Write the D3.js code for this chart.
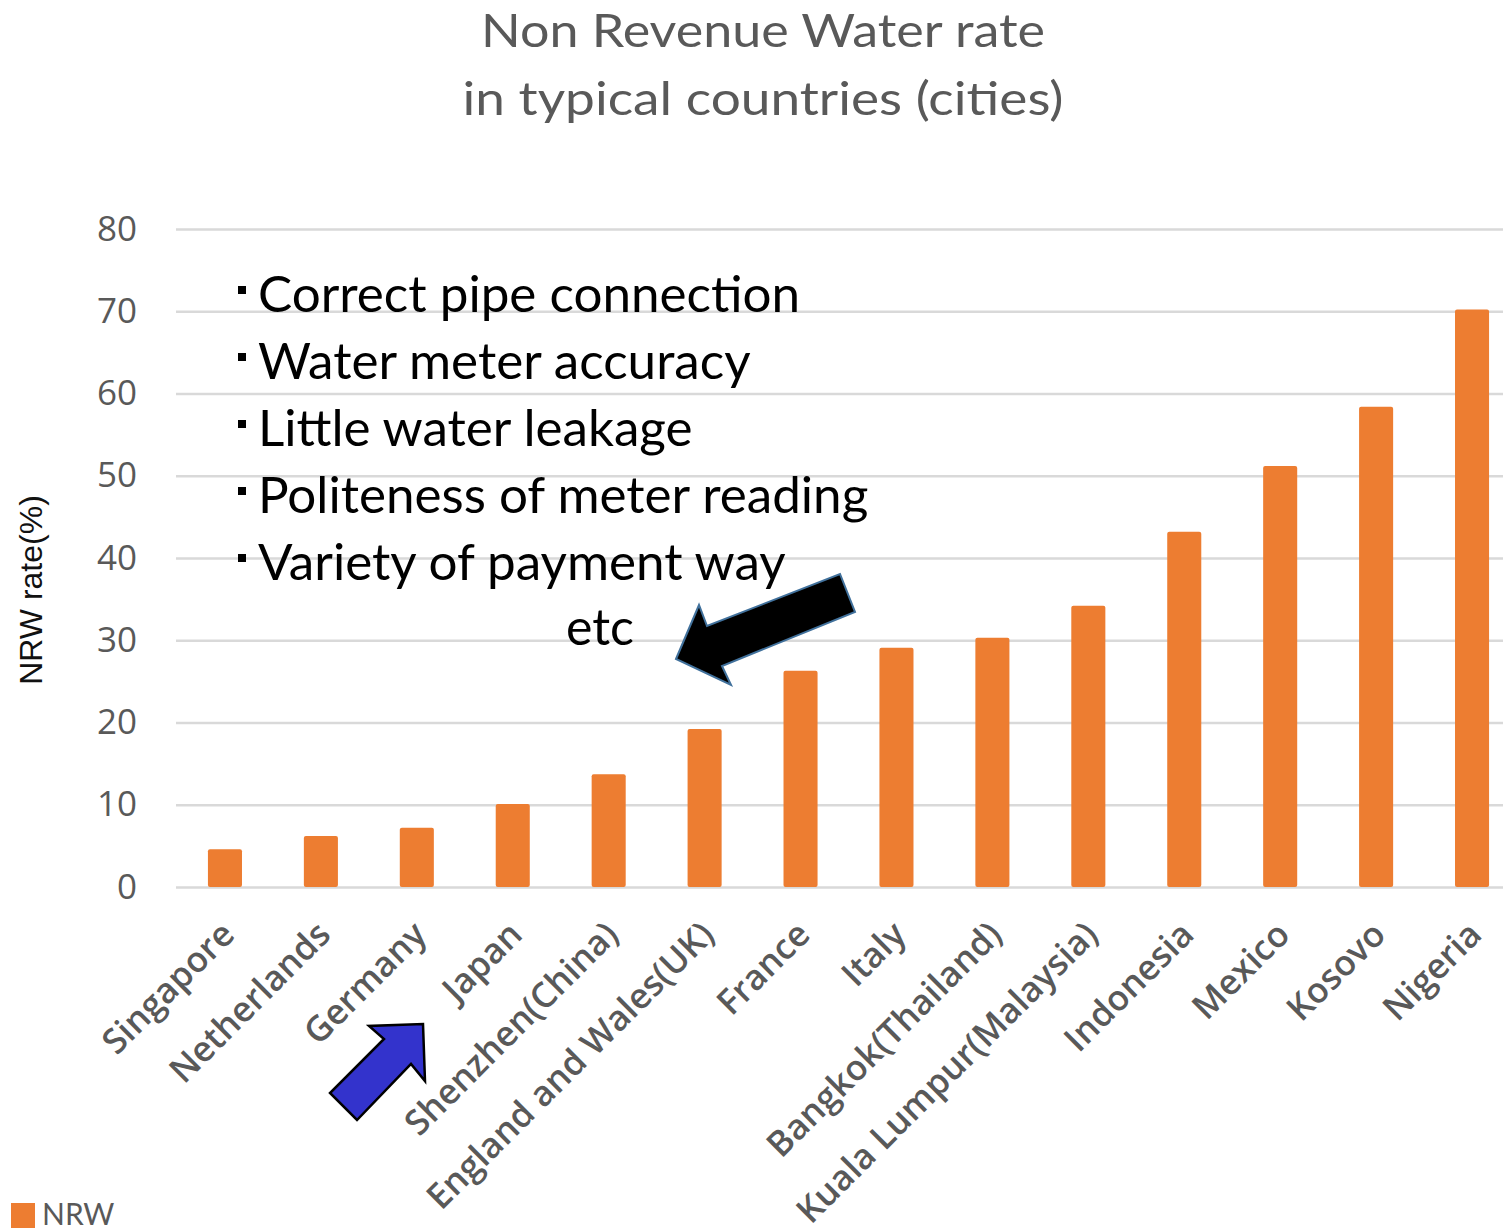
<html>
<head>
<meta charset="utf-8">
<script src="https://d3js.org/d3.v7.min.js"></script>
<style>
  body { margin: 0; background: white; }
  .tick-label { font-family: 'Open Sans', sans-serif; fill: #595959; }
</style>
</head>
<body>
<script>

// data
var countries = ['Singapore', 'Netherlands', 'Germany', 'Japan', 'Shenzhen(China)',
                 'England and Wales(UK)', 'France', 'Italy', 'Bangkok(Thailand)',
                 'Kuala Lumpur(Malaysia)', 'Indonesia', 'Mexico', 'Kosovo', 'Nigeria'];
var nrw = [4.6, 6.2, 7.2, 10.1, 13.7, 19.2, 26.3, 29.1, 30.3, 34.2, 43.2, 51.2, 58.4, 70.2];
var yTicks = [0, 10, 20, 30, 40, 50, 60, 70, 80];
var titleLines = ['Non Revenue Water rate', 'in typical countries (cities)'];
var notes = ['Correct pipe connection', 'Water meter accuracy', 'Little water leakage',
             'Politeness of meter reading', 'Variety of payment way'];

var W = 1503, H = 1228;

var svg = d3.select('body').append('svg')
    .attr('width', W)
    .attr('height', H);

var x = d3.scaleBand()
    .domain(countries)
    .range([177, 1520])
    .paddingInner(0.645)
    .paddingOuter(0.3225);

var y = d3.scaleLinear()
    .domain([0, 80])
    .range([887, 229]);

// title
svg.selectAll('.title')
    .data(titleLines)
    .enter().append('text')
    .attr('class', 'title')
    .attr('x', 763)
    .attr('y', function(d, i) { return 47 + i * 68; })
    .attr('text-anchor', 'middle')
    .attr('font-family', 'Lato, sans-serif')
    .attr('font-size', 47)
    .attr('fill', '#595959')
    .text(function(d) { return d; })
    .attr('textLength', function(d, i) { return i == 0 ? 564 : 601; })
    .attr('lengthAdjust', 'spacingAndGlyphs');

// gridlines + y labels
var yAxis = d3.axisLeft(y)
    .tickValues(yTicks)
    .tickSize(-(W - 176))
    .tickPadding(39);

var gy = svg.append('g')
    .attr('transform', 'translate(176,0)')
    .call(yAxis);
gy.select('.domain').remove();
gy.selectAll('.tick line')
    .attr('stroke', '#d9d9d9')
    .attr('stroke-width', 2.5);
gy.selectAll('.tick text')
    .attr('class', 'tick-label')
    .attr('font-size', 35)
    .attr('fill', '#595959');

// y axis title
svg.append('text')
    .attr('transform', 'translate(42,590) rotate(-90)')
    .attr('text-anchor', 'middle')
    .attr('font-family', 'Liberation Sans, Arial, sans-serif')
    .attr('font-size', 32)
    .attr('fill', '#111')
    .text('NRW rate(%)');

// bars
svg.selectAll('.bar')
    .data(nrw)
    .enter().append('rect')
    .attr('class', 'bar')
    .attr('x', function(d, i) { return x(countries[i]); })
    .attr('y', function(d) { return y(d); })
    .attr('width', x.bandwidth())
    .attr('height', function(d) { return y(0) - y(d); })
    .attr('rx', 2)
    .attr('fill', '#ed7d31');

// x labels, rotated
svg.selectAll('.xlab')
    .data(countries)
    .enter().append('text')
    .attr('class', 'tick-label')
    .attr('transform', function(d) {
        return 'translate(' + (x(d) + x.bandwidth() / 2 - 7) + ',918) rotate(-45)';
    })
    .attr('text-anchor', 'end')
    .attr('dy', '0.75em')
    .attr('font-size', 35)
    .attr('font-weight', 600)
    .text(function(d) { return d; });

// annotation list
var noteG = svg.append('g');
var k = null;
noteG.selectAll('text')
    .data(notes)
    .enter().append('text')
    .attr('x', 258)
    .attr('y', function(d, i) { return 312 + i * 67; })
    .attr('font-family', 'Lato, sans-serif')
    .attr('font-size', 50)
    .attr('fill', 'black')
    .text(function(d) { return d; })
    .each(function() {
        var len = this.getComputedTextLength();
        if (k === null) k = 542 / len;
        d3.select(this).attr('textLength', len * k).attr('lengthAdjust', 'spacingAndGlyphs');
    });
noteG.selectAll('rect')
    .data(notes)
    .enter().append('rect')
    .attr('x', 238)
    .attr('y', function(d, i) { return 312 + i * 67 - 26; })
    .attr('width', 8)
    .attr('height', 8)
    .attr('fill', 'black');
noteG.append('text')
    .attr('x', 566)
    .attr('y', 645)
    .attr('font-family', 'Lato, sans-serif')
    .attr('font-size', 50)
    .attr('textLength', 68)
    .attr('lengthAdjust', 'spacingAndGlyphs')
    .text('etc');

// black arrow pointing down-left
var blackArrow = [[676, 659], [699, 605], [707, 626], [840, 574], [855, 612], [722, 666], [731, 685]];
svg.append('polygon')
    .attr('points', blackArrow.join(' '))
    .attr('fill', 'black')
    .attr('stroke', '#41719c')
    .attr('stroke-width', 2);

// blue arrow pointing up-right
var blueArrow = [[423, 1024], [425, 1081], [411, 1064], [357, 1120], [330, 1093], [384, 1039], [369, 1026]];
svg.append('polygon')
    .attr('points', blueArrow.join(' '))
    .attr('fill', '#3333cc')
    .attr('stroke', 'black')
    .attr('stroke-width', 2.5);

// legend
svg.append('rect')
    .attr('x', 11)
    .attr('y', 1203)
    .attr('width', 24)
    .attr('height', 25)
    .attr('fill', '#ed7d31');
svg.append('text')
    .attr('x', 42)
    .attr('y', 1225)
    .attr('font-family', 'Lato, sans-serif')
    .attr('font-size', 30)
    .attr('fill', '#595959')
    .text('NRW');

</script>
</body>
</html>
